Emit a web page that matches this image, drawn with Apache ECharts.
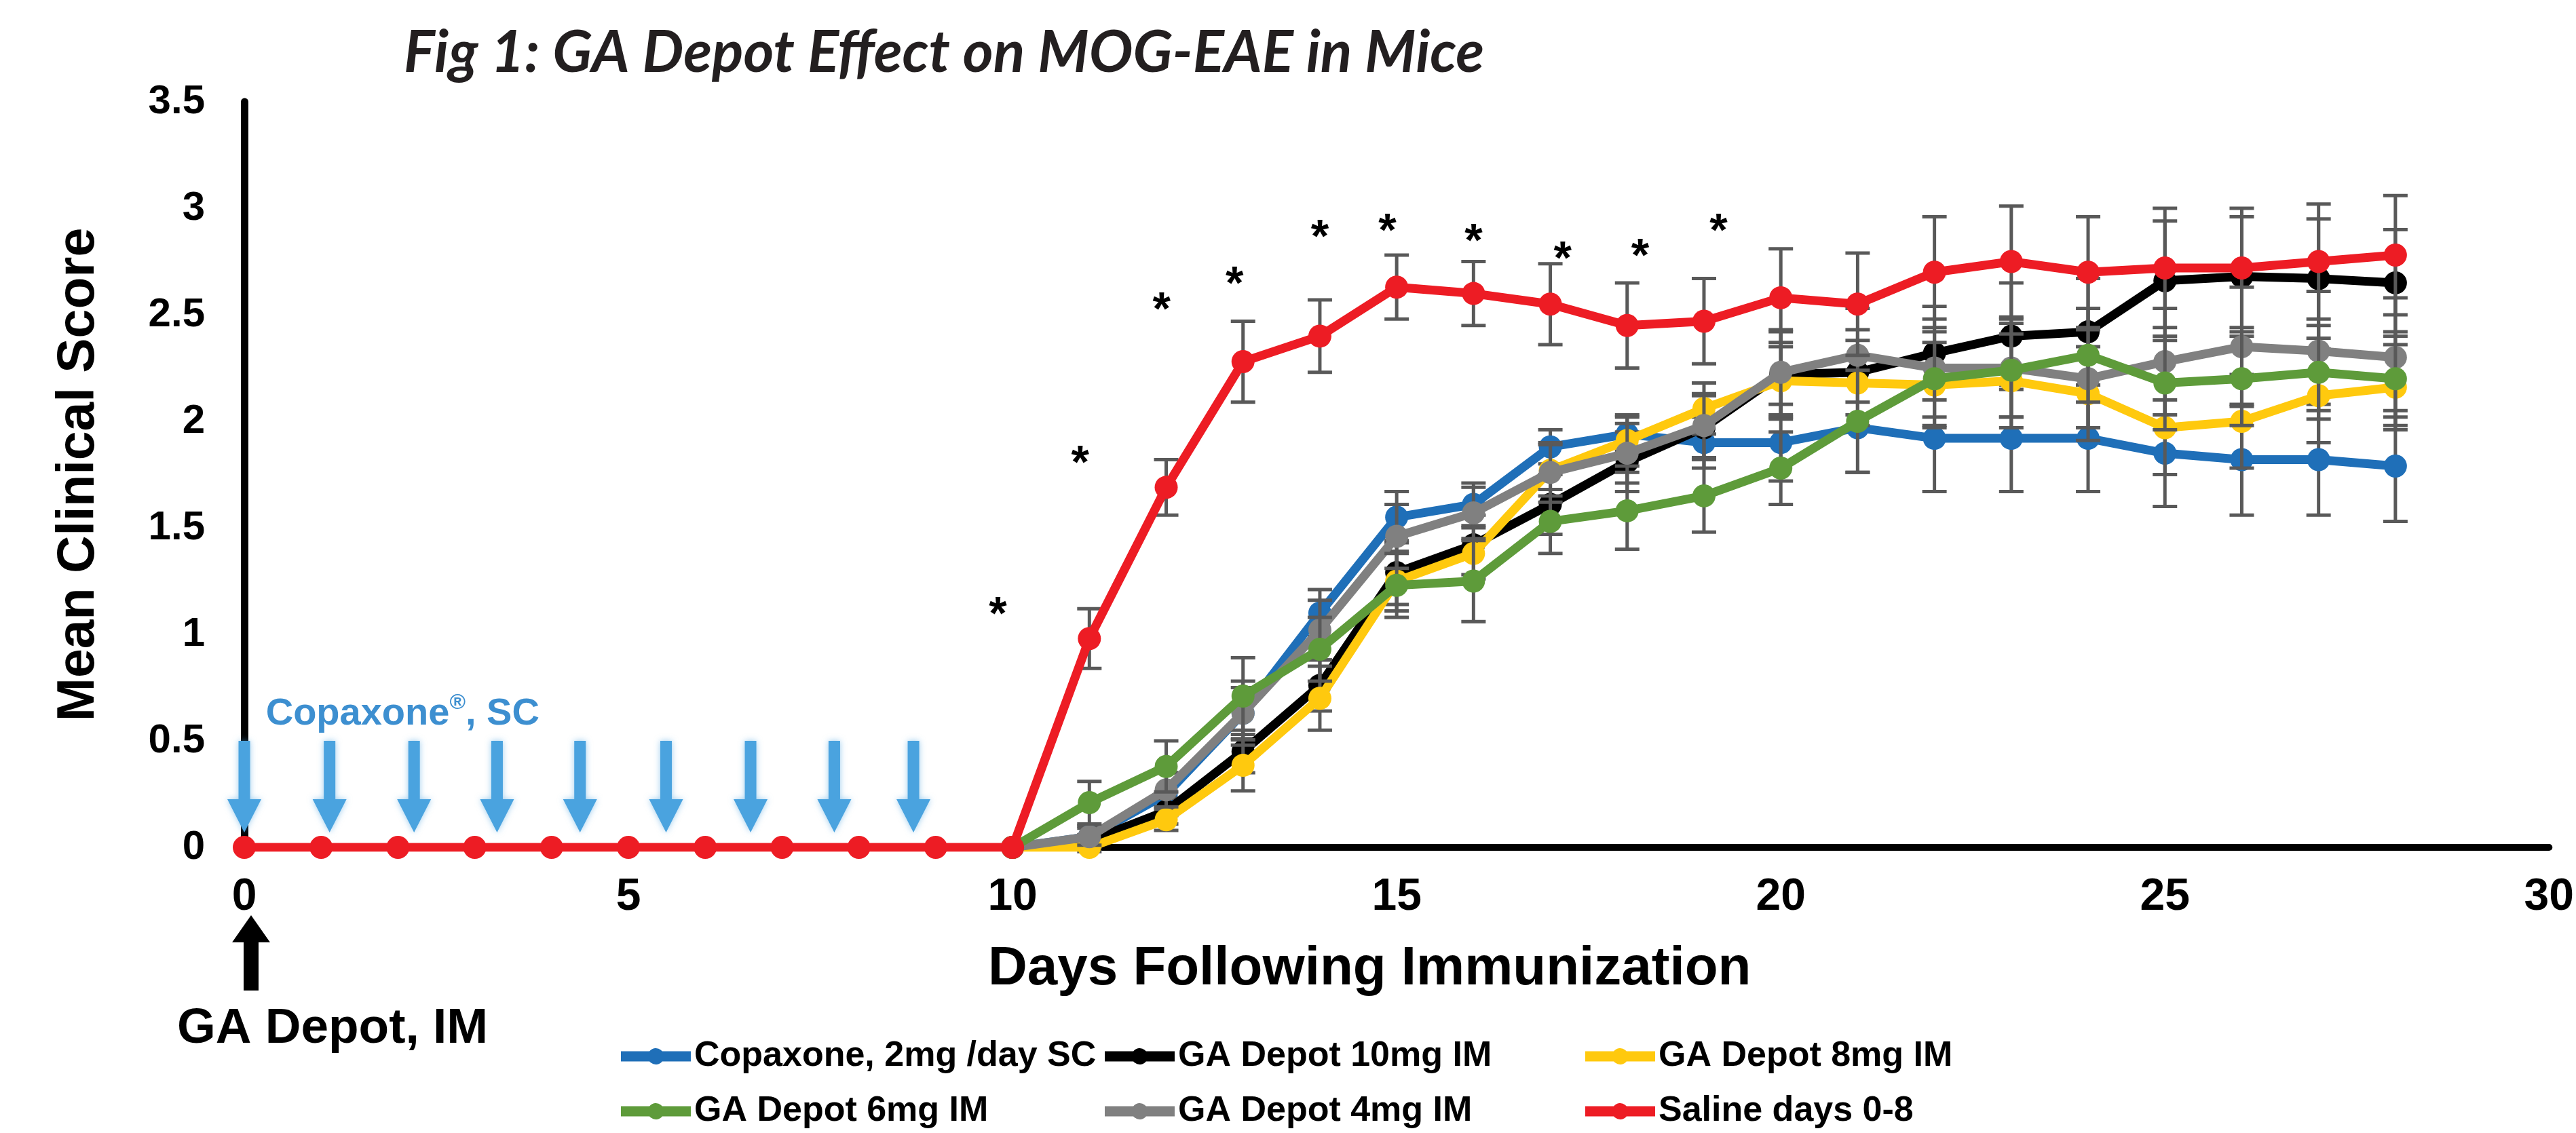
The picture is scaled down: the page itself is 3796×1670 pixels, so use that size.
<!DOCTYPE html>
<html><head><meta charset="utf-8">
<script src="https://cdn.jsdelivr.net/npm/echarts@6/dist/echarts.min.js"></script>
<style>html,body{margin:0;padding:0;background:#fff}#c{width:3796px;height:1670px}</style>
</head><body><div id="c"></div>
<script>
// ---------- data ----------
const days = [0,1,2,3,4,5,6,7,8,9,10,11,12,13,14,15,16,17,18,19,20,21,22,23,24,25,26,27,28];
const lateDays = [10,11,12,13,14,15,16,17,18,19,20,21,22,23,24,25,26,27,28];
const errDays = [11,12,13,14,15,16,17,18,19,20,21,22,23,24,25,26,27,28];

const copaxone = [0,0.05,0.25,0.63,1.10,1.55,1.61,1.88,1.94,1.90,1.90,1.97,1.92,1.92,1.92,1.85,1.82,1.82,1.79];
const depot10  = [0,0.03,0.17,0.45,0.76,1.29,1.42,1.61,1.81,1.97,2.22,2.23,2.32,2.40,2.42,2.66,2.68,2.67,2.65];
const depot8   = [0,0,0.13,0.385,0.70,1.25,1.38,1.77,1.91,2.06,2.19,2.18,2.17,2.19,2.13,1.97,2.00,2.12,2.16];
const depot6   = [0,0.21,0.38,0.71,0.93,1.23,1.25,1.53,1.58,1.65,1.78,2.00,2.20,2.24,2.31,2.18,2.20,2.23,2.20];
const depot4   = [0,0.05,0.27,0.63,1.02,1.46,1.57,1.76,1.85,1.98,2.23,2.31,2.25,2.25,2.20,2.28,2.35,2.33,2.30];
const saline   = [0,0,0,0,0,0,0,0,0,0,0,0.98,1.69,2.28,2.40,2.63,2.60,2.55,2.45,2.47,2.58,2.55,2.70,2.75,2.70,2.72,2.72,2.75,2.78];

const errCopaxone = [0.05,0.10,0.12,0.11,0.12,0.10,0.08,0.08,0.12,0.18,0.21,0.25,0.25,0.25,0.25,0.26,0.26,0.26];
const errDepot10  = [0.03,0.06,0.10,0.12,0.15,0.14,0.14,0.14,0.15,0.20,0.20,0.22,0.25,0.25,0.28,0.28,0.28,0.25];
const errDepot8   = [0.02,0.05,0.12,0.15,0.14,0.12,0.12,0.12,0.12,0.18,0.20,0.20,0.22,0.22,0.22,0.22,0.22,0.20];
const errDepot6   = [0.10,0.12,0.18,0.15,0.15,0.19,0.15,0.18,0.17,0.17,0.24,0.22,0.22,0.22,0.22,0.22,0.22,0.22];
const errDepot4   = [0.04,0.08,0.15,0.14,0.15,0.12,0.14,0.14,0.15,0.20,0.22,0.23,0.23,0.23,0.25,0.28,0.28,0.28];
const errSaline   = [0.14,0.13,0.19,0.17,0.15,0.15,0.19,0.20,0.20,0.23,0.24,0.26,0.26,0.26,0.28,0.28,0.27,0.28];

const sigDays    = [9.81,10.88,11.94,12.89,14.0,14.88,16.0,17.16,18.17,19.19];
const sigHeights = [1.13,1.84,2.56,2.68,2.90,2.93,2.88,2.80,2.81,2.93];

const doseDays = [0,1.11,2.21,3.29,4.37,5.49,6.59,7.68,8.71];

const xTicks = [0,5,10,15,20,25,30];
const yTicks = [0,0.5,1,1.5,2,2.5,3,3.5];

const names = ['Copaxone, 2mg /day SC','GA Depot 10mg IM','GA Depot 8mg IM','GA Depot 6mg IM','GA Depot 4mg IM','Saline days 0-8'];

// ---------- chart ----------
const FONT = '"Liberation Sans", Arial, sans-serif';
const chart = echarts.init(document.getElementById('c'), null, {renderer:'canvas'});

function pairs(xs, ys){ return xs.map((x,i)=>[x, ys[i]]); }
function triples(xs, ys, es){ return xs.map((x,i)=>[x, ys[i], es[i]]); }

function errRender(params, api){
  const x = api.value(0), y = api.value(1), e = api.value(2);
  const t = api.coord([x, y + e]), b = api.coord([x, y - e]);
  const hw = 18;
  const st = {stroke:'#595959', lineWidth:5};
  return {type:'group', children:[
    {type:'line', shape:{x1:t[0],y1:t[1],x2:b[0],y2:b[1]}, style:st},
    {type:'line', shape:{x1:t[0]-hw,y1:t[1],x2:t[0]+hw,y2:t[1]}, style:st},
    {type:'line', shape:{x1:b[0]-hw,y1:b[1],x2:b[0]+hw,y2:b[1]}, style:st}
  ]};
}

const specs = [
  {name:names[0], xs:lateDays, ys:copaxone, err:errCopaxone, color:'#1f6fb8'},
  {name:names[1], xs:lateDays, ys:depot10, err:errDepot10, color:'#000000'},
  {name:names[2], xs:lateDays, ys:depot8, err:errDepot8, color:'#ffc90e'},
  {name:names[4], xs:lateDays, ys:depot4, err:errDepot4, color:'#808080'},
  {name:names[3], xs:lateDays, ys:depot6, err:errDepot6, color:'#5e9b3a'},
  {name:names[5], xs:days, ys:saline, err:errSaline, color:'#ed1c24'}
];

const series = [];
specs.forEach((s, k) => {
  const off = s.ys.length - errDays.length;
  series.push({
    type:'custom', name:s.name + ' SEM', renderItem:errRender,
    data: triples(errDays, s.ys.slice(off), s.err),
    encode:{x:0, y:1}, z: 2 + k*2, silent:true
  });
  series.push({
    type:'line', name:s.name, data:pairs(s.xs, s.ys),
    symbol:'circle', symbolSize:34, showSymbol:true,
    lineStyle:{color:s.color, width:13},
    itemStyle:{color:s.color},
    z: 3 + k*2, animation:false
  });
});

// asterisks
series.push({
  type:'custom', name:'sig', silent:true, z:20,
  data: pairs(sigDays, sigHeights), encode:{x:0,y:1},
  renderItem:function(params, api){
    const p = api.coord([api.value(0), api.value(1)]);
    return {type:'text', x:p[0], y:p[1] + 14, style:{text:'*', fontSize:68, fontWeight:'bold', fontFamily:FONT, fill:'#000', align:'center', verticalAlign:'middle'}};
  }
});

// Copaxone dose arrows
series.push({
  type:'custom', name:'dose', silent:true, z:1,
  data: doseDays.map(d=>[d, 0.5]), encode:{x:0,y:1},
  renderItem:function(params, api){
    const top = api.coord([api.value(0), 0.5]);
    const tip = api.coord([api.value(0), 0.07]);
    const x = top[0], hl = 49, sw = 8.5, hw = 25;
    const base = tip[1] - hl;
    return {type:'polygon', shape:{points:[[x-sw,top[1]],[x+sw,top[1]],[x+sw,base],[x+hw,base],[x,tip[1]],[x-hw,base],[x-sw,base]]},
      style:{fill:'#4aa3df', shadowBlur:10, shadowColor:'rgba(74,163,223,0.55)'}};
  }
});

// legend icon: thick line with a dot in the middle (103 x 24 box)
const LEG_ICON = 'path://M0,4.5 L42.13,4.5 A12,12 0 0,1 60.87,4.5 L103,4.5 L103,19.5 L60.87,19.5 A12,12 0 0,1 42.13,19.5 L0,19.5 Z';
const legendCols = [910, 1623, 2331];
const legendRows = [1522, 1603];
const legendOrder = [[names[0], names[1], names[2]], [names[3], names[4], names[5]]];
const legends = [];
legendOrder.forEach((row, r) => row.forEach((nm, c) => {
  legends.push({
    orient:'horizontal', left:legendCols[c], top:legendRows[r], data:[{name:nm, icon:LEG_ICON}],
    itemWidth:103, itemHeight:24, selectedMode:false,
    textStyle:{fontSize:52, fontWeight:'bold', fontFamily:FONT, color:'#000', lineHeight:60}
  });
}));

chart.setOption({
  backgroundColor:'#fff',
  animation:false,
  title:{text:'Fig 1: GA Depot Effect on MOG-EAE in Mice', left:590, top:30,
    textStyle:{fontFamily:'Lato, "Open Sans", sans-serif', fontStyle:'italic', fontWeight:'bold', fontSize:86, color:'#231f20'}},
  grid:{left:360, right:37, top:150, bottom:421},
  legend: legends,
  xAxis:{type:'value', min:xTicks[0], max:xTicks[xTicks.length-1], interval:xTicks[1]-xTicks[0],
    axisLine:{show:true, lineStyle:{color:'#000', width:10}}, axisTick:{show:false}, splitLine:{show:false},
    axisLabel:{fontSize:66, fontWeight:'bold', fontFamily:FONT, color:'#000', margin:41},
    name:'Days Following Immunization', nameLocation:'middle', nameGap:140,
    nameTextStyle:{fontSize:80, fontWeight:'bold', fontFamily:FONT, color:'#000', padding:[0,80,0,0]}},
  yAxis:{type:'value', min:yTicks[0], max:yTicks[yTicks.length-1], interval:yTicks[1]-yTicks[0],
    axisLine:{show:true, lineStyle:{color:'#000', width:11}}, axisTick:{show:false}, splitLine:{show:false},
    axisLabel:{fontSize:60, fontWeight:'bold', fontFamily:FONT, color:'#000', margin:58},
    name:'Mean Clinical Score', nameLocation:'middle', nameRotate:90, nameGap:205,
    nameTextStyle:{fontSize:77, fontWeight:'bold', fontFamily:FONT, color:'#000'}},
  series: series
});

// annotations anchored to the axes
const origin = chart.convertToPixel({xAxisIndex:0, yAxisIndex:0}, [0, 0]);
const copaxPos = chart.convertToPixel({xAxisIndex:0, yAxisIndex:0}, [0.28, 0.627]);
const ax = origin[0] + 10, ay = origin[1];
chart.setOption({
  graphic:[
    {type:'polygon', z:50, shape:{points:[[ax,ay+100],[ax+28,ay+140],[ax+11,ay+140],[ax+11,ay+211],[ax-11,ay+211],[ax-11,ay+140],[ax-28,ay+140]]}, style:{fill:'#000'}},
    {type:'text', z:50, x:origin[0]+130, y:ay+268, style:{text:'GA Depot, IM', fontSize:73, fontWeight:'bold', fontFamily:FONT, fill:'#000', align:'center', verticalAlign:'middle'}},
    {type:'text', z:50, x:copaxPos[0], y:copaxPos[1], style:{
      text:'{a|Copaxone}{b|®}{a|, SC}', align:'left', verticalAlign:'middle',
      rich:{a:{fontSize:56, fontWeight:'bold', fontFamily:FONT, fill:'#3d8fd0', lineHeight:64},
            b:{fontSize:32, fontWeight:'bold', fontFamily:FONT, fill:'#3d8fd0', verticalAlign:'top', lineHeight:64, padding:[0,0,22,0]}}}}
  ]
});
</script></body></html>
